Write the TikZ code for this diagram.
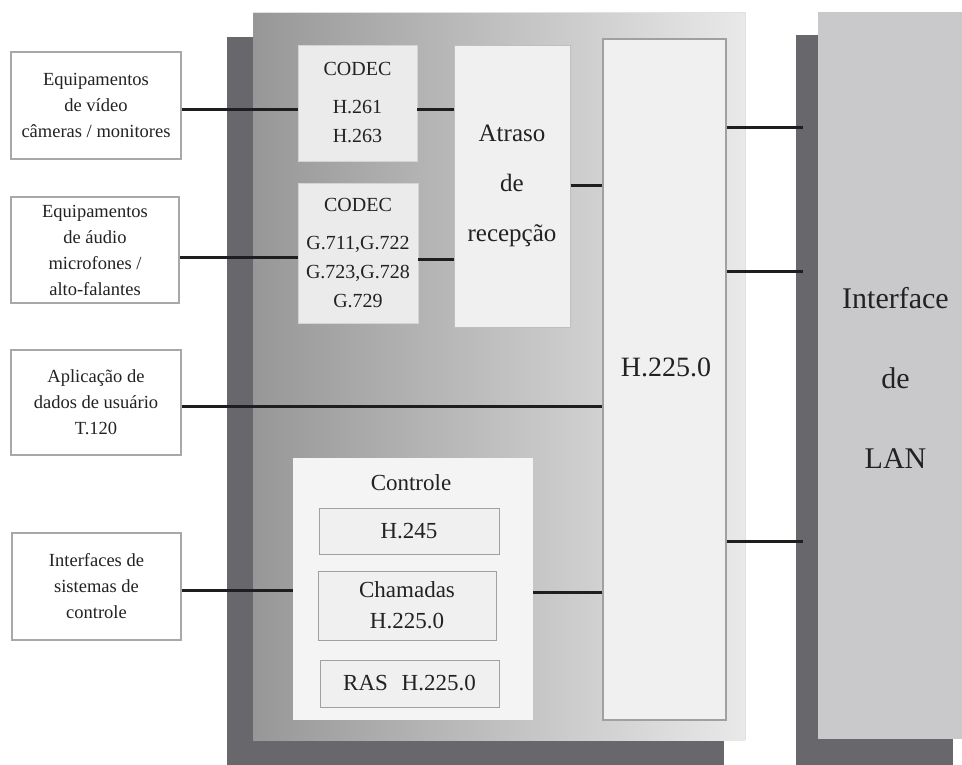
\documentclass[tikz,border=0pt]{standalone}
\usepackage{fontspec}
\setmainfont{Liberation Serif}
\usetikzlibrary{calc}
\definecolor{shadowc}{HTML}{68686C}
\definecolor{panelL}{HTML}{979797}
\definecolor{panelR}{HTML}{E9E9E9}
\definecolor{lanc}{HTML}{C9C9CB}
\definecolor{txt}{HTML}{222222}
\definecolor{lborder}{HTML}{A8A8A8}
\definecolor{sborder}{HTML}{A0A0A0}
\definecolor{codecfill}{HTML}{EBEBEB}
\definecolor{innerfill}{HTML}{F0F0F1}
\definecolor{wire}{HTML}{1E1E1E}
\tikzset{
  box/.style={rectangle, inner sep=0pt, align=center, text=txt},
  lbox/.style={box, draw=lborder, fill=white, line width=1.5pt, font=\fontsize{18.5}{26}\selectfont},
  codecbox/.style={box, fill=codecfill, draw=codecfill!90!black, line width=0.6pt, font=\fontsize{20}{29}\selectfont},
  atrbox/.style={box, fill=innerfill, draw=black!25, line width=1pt, font=\fontsize{25}{50}\selectfont},
  hbox/.style={box, fill=innerfill, draw=sborder, line width=1.2pt},
  ctrlbox/.style={box, fill=innerfill!70!white, draw=none},
  subbox/.style={box, fill=innerfill, draw=sborder, line width=1pt, font=\fontsize{23}{31}\selectfont},
  txtnode/.style={inner sep=0pt, align=center, text=txt},
  wirestyle/.style={draw=wire, line width=3pt}
}
\begin{document}
\begin{tikzpicture}[x=1pt,y=-1pt]
\useasboundingbox (0,0) rectangle (962,764);
\fill[white] (0,0) rectangle (962,764);
% main block
\fill[shadowc] (227,37) rectangle (724,770);
\shade[left color=panelL, right color=panelR] (253,12) rectangle (745,740);
\draw[white!88!black, line width=1pt] (253,12) -- (745,12) -- (745,740);
% LAN block
\fill[shadowc] (796,35) rectangle (953,770);
\fill[lanc] (818,12) rectangle (962,739);
\node[txtnode, font=\fontsize{30}{80}\selectfont] (lant) at (895.5,378) {Interface\\de\\LAN};
\coordinate (lanedge) at (803,0);

% left boxes
\node[lbox, minimum width=170pt, minimum height=107pt] (vid) at (96,105.5) {Equipamentos\\de vídeo\\câmeras / monitores};
\node[lbox, minimum width=168pt, minimum height=106pt] (aud) at (95,250) {Equipamentos\\de áudio\\microfones /\\alto-falantes};
\node[lbox, minimum width=170pt, minimum height=105pt] (app) at (96,402.5) {Aplicação de\\dados de usuário\\T.120};
\node[lbox, minimum width=169pt, minimum height=107pt] (ctl) at (96.5,586.5) {Interfaces de\\sistemas de\\controle};

% codecs
\node[codecbox, minimum width=119pt, minimum height=116pt] (cv) at (357.5,103) {CODEC\\[9pt]H.261\\H.263};
\node[codecbox, minimum width=120pt, minimum height=140pt] (ca) at (358,253) {CODEC\\[9pt]G.711,G.722\\G.723,G.728\\G.729};

% atraso
\node[atrbox, minimum width=116pt, minimum height=282pt] (atr) at (512,186) {Atraso\\de\\recepção};

% H.225.0
\node[hbox, minimum width=123pt, minimum height=681pt] (h225) at (664.5,379.5) {};
\node[txtnode, font=\fontsize{28}{32}\selectfont] (h225t) at (666,367) {H.225.0};

% controle
\node[ctrlbox, minimum width=240pt, minimum height=262pt] (ctrl) at (413,589) {};
\node[txtnode, font=\fontsize{23}{28}\selectfont] (ctrlt) at (411,483) {Controle};
\node[subbox, minimum width=180pt, minimum height=46pt] (h245) at (409,531) {H.245};
\node[subbox, minimum width=178pt, minimum height=69pt] (cham) at (407,605.5) {Chamadas\\H.225.0};
\node[subbox, minimum width=179pt, minimum height=47pt] (ras) at (409.5,683.5) {RAS\hspace{0.6em}H.225.0};

% connectors
\draw[wirestyle] (vid.east |- 0,109) -- (cv.west |- 0,109);
\draw[wirestyle] (cv.east |- 0,109) -- (atr.west |- 0,109);
\draw[wirestyle] (aud.east |- 0,257) -- (ca.west |- 0,257);
\draw[wirestyle] (ca.east |- 0,259) -- (atr.west |- 0,259);
\draw[wirestyle] (atr.east |- 0,185) -- (h225.west |- 0,185);
\draw[wirestyle] (app.east |- 0,406) -- (h225.west |- 0,406);
\draw[wirestyle] (ctl.east |- 0,590) -- (ctrl.west |- 0,590);
\draw[wirestyle] (ctrl.east |- 0,592) -- (h225.west |- 0,592);
\draw[wirestyle] (h225.east |- 0,127) -- (lanedge |- 0,127);
\draw[wirestyle] (h225.east |- 0,271) -- (lanedge |- 0,271);
\draw[wirestyle] (h225.east |- 0,541) -- (lanedge |- 0,541);
\end{tikzpicture}
\end{document}
